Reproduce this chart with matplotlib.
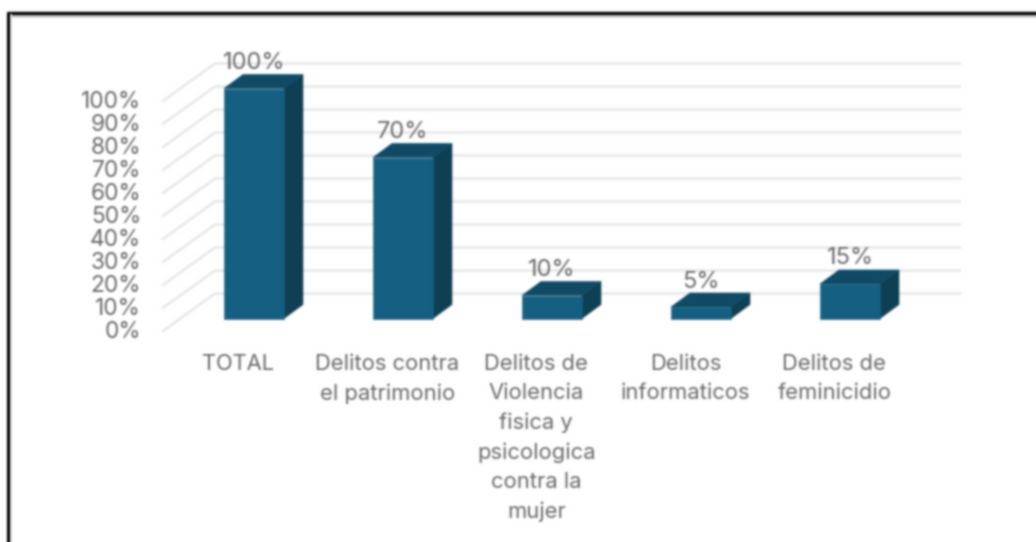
import numpy as np
import matplotlib
matplotlib.use('Agg')
import matplotlib.pyplot as plt
from matplotlib.lines import Line2D

# ================= data =================
categories = ['TOTAL', 'Delitos contra\nel patrimonio',
              'Delitos de\nViolencia\nfisica y\npsicologica\ncontra la\nmujer',
              'Delitos\ninformaticos', 'Delitos de\nfeminicidio']
values = [100, 70, 10, 5, 15]
value_labels = ['100%', '70%', '10%', '5%', '15%']
ticks = [0, 10, 20, 30, 40, 50, 60, 70, 80, 90, 100]
tick_labels = ['0%', '10%', '20%', '30%', '40%', '50%', '60%', '70%', '80%', '90%', '100%']

# ================= style =================
W, H = 1036, 542
X0, DX = 254, 149      # px of first bar centre, px between bars
Y0, PY = 318.5, 2.3    # px of value 0, px per percent
BAR_W = 60 / DX
DEPTH_X = 19 / DX      # 3d offset of the bars
DEPTH_Y = 14 / PY
WALL_X = 52 / DX       # 3d offset of the side wall
WALL_Y = 37.4 / PY
FRONT = '#156082'
SIDE = '#0e3f54'
TOP = '#104a64'
GRID = '#e6e6e6'
TEXT = '#6a6a6a'
plt.rcParams['font.family'] = ['Inter', 'DejaVu Sans']


def blur(img, dpi, sigma=1.05):
    # the reference is a soft upscaled screenshot
    kernel = np.exp(-0.5 * (np.arange(-4, 5) / sigma) ** 2)
    kernel /= kernel.sum()
    img = np.pad(img, ((4, 4), (4, 4), (0, 0)), mode='edge')
    for axis in (0, 1):
        out = np.zeros_like(img)
        for k, w in zip(range(-4, 5), kernel):
            out += w * np.roll(img, k, axis=axis)
        img = out
    return img[4:-4, 4:-4], 0, 0


fig = plt.figure(figsize=(W / 100, H / 100), dpi=100, facecolor='white')
ax = fig.add_axes([0, 0, 1, 1])
ax.set_xlim(-X0 / DX, (W - X0) / DX)
ax.set_ylim((Y0 - H) / PY, Y0 / PY)
ax.axis('off')

# side wall + back grid lines
wall_left = (163 - X0) / DX
wall_front = -5.4
grid_right = (960 - X0) / DX
for t, lab in zip(ticks, tick_labels):
    y_front = t + wall_front
    y_back = y_front + WALL_Y
    ax.plot([wall_left, wall_left + WALL_X, grid_right], [y_front, y_back, y_back],
            color=GRID, lw=1.7, zorder=1, solid_joinstyle='miter')
    ax.text((141 - X0) / DX, y_front - 0.4, lab, ha='right', va='center', fontsize=16.3, color=TEXT)

# bars
for i, (v, vl, cat) in enumerate(zip(values, value_labels, categories)):
    l, r = i - BAR_W / 2, i + BAR_W / 2
    ax.fill([l, r, r, l], [0, 0, v, v], fc=FRONT, ec=FRONT, lw=0.4, zorder=3.2)
    ax.fill([r, r + DEPTH_X, r + DEPTH_X, r], [0, DEPTH_Y, v + DEPTH_Y, v], fc=SIDE, ec=SIDE, lw=0.4, zorder=3)
    ax.fill([l, r, r + DEPTH_X, l + DEPTH_X], [v, v, v + DEPTH_Y, v + DEPTH_Y], fc=TOP, ec=TOP, lw=0.4, zorder=3)
    ax.text(i, v + DEPTH_Y + 5.0, vl, ha='center', va='center', fontsize=17, color=TEXT, zorder=4)
    ax.text(i - 0.105, -15.6, cat, ha='center', va='top', fontsize=15.8, color=TEXT, linespacing=1.56)

# frame of the screenshot
fig.add_artist(Line2D([7 / W, 1], [1 - 15.5 / H, 1 - 15.5 / H], color='#aaaaaa', lw=1, solid_capstyle='butt'))
fig.add_artist(Line2D([7 / W, 1], [1 - 13 / H, 1 - 13 / H], color='black', lw=2.4, solid_capstyle='butt'))
fig.add_artist(Line2D([10.5 / W, 10.5 / W], [0, 1 - 14 / H], color='#dddddd', lw=1.5, solid_capstyle='butt'))
fig.add_artist(Line2D([8 / W, 8 / W], [0, 1 - 12 / H], color='black', lw=2.2, solid_capstyle='butt'))

fig.set_agg_filter(blur)
fig.savefig('out.png', dpi=100, facecolor='white')
print('saved')
